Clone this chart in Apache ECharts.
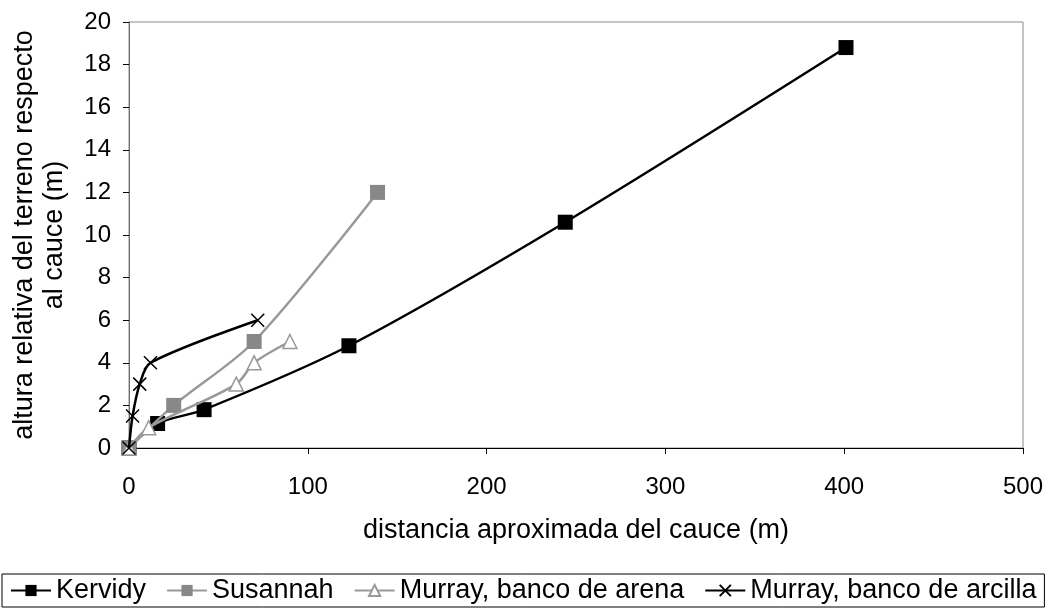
<!DOCTYPE html>
<html>
<head>
<meta charset="utf-8">
<style>
  html, body { margin: 0; padding: 0; background: #fff; }
  #chart { width: 1049px; height: 609px; }
</style>
<script src="https://cdn.jsdelivr.net/npm/echarts@6/dist/echarts.min.js"></script>
</head>
<body>
<div id="chart"></div>
<script>
// datos: [distancia (m), altura (m)]
const kervidy = [[0, 0], [16, 1.15], [42, 1.8], [123, 4.8], [244, 10.6], [401, 18.8]];
const susannah = [[0, 0], [25, 2], [70, 5], [139, 12]];
const murrayArena = [[0, 0], [11, 0.95], [60, 3], [70, 4], [90, 5]];
const murrayArcilla = [[0, 0], [2, 1.5], [6, 3], [12, 4], [72, 6]];

const seriesNames = ['Kervidy', 'Susannah', 'Murray, banco de arena', 'Murray, banco de arcilla'];
const xTitle = 'distancia aproximada del cauce (m)';
const yTitle = 'altura relativa del terreno respecto\nal cauce (m)';

const FONT = 'Liberation Sans, Arial, sans-serif';
const xMark = 'path://M0,0L10,10M10,0L0,10';

const chart = echarts.init(document.getElementById('chart'));

chart.setOption({
  animation: false,
  textStyle: { fontFamily: FONT },
  grid: {
    left: 129, right: 26, top: 22, bottom: 161,
    outerBoundsMode: 'none',
    containLabel: false,
    show: true, borderColor: '#8a8a8a', borderWidth: 1
  },
  xAxis: {
    type: 'value',
    min: 0, max: 500, interval: 100,
    name: xTitle,
    nameLocation: 'middle',
    nameGap: 69,
    nameTextStyle: { fontSize: 27, color: '#000', fontFamily: FONT },
    axisLine: { lineStyle: { color: '#000', width: 1 } },
    axisTick: { show: true, inside: false, length: 6, lineStyle: { color: '#000' } },
    axisLabel: { fontSize: 24, color: '#000', margin: 27, fontFamily: FONT },
    splitLine: { show: false }
  },
  yAxis: {
    type: 'value',
    min: 0, max: 20, interval: 2,
    name: yTitle,
    nameLocation: 'middle',
    nameGap: 59,
    nameRotate: 90,
    nameTextStyle: { fontSize: 27, color: '#000', fontFamily: FONT, lineHeight: 30 },
    axisLine: { show: true, lineStyle: { color: '#6e6e6e', width: 1 } },
    axisTick: { show: true, inside: false, length: 6, lineStyle: { color: '#000' } },
    axisLabel: { fontSize: 24, color: '#000', margin: 18, fontFamily: FONT },
    splitLine: { show: false }
  },
  legend: {
    left: 2, bottom: 2,
    padding: [3, 8],
    itemGap: 20,
    itemWidth: 40,
    itemHeight: 14,
    borderColor: '#000',
    borderWidth: 1,
    textStyle: { fontSize: 27, color: '#000', fontFamily: FONT },
    data: seriesNames
  },
  series: [
    {
      name: seriesNames[0], type: 'line', data: kervidy, smooth: 0.3,
      symbol: 'rect', symbolSize: 15,
      lineStyle: { color: '#000', width: 2.5 },
      itemStyle: { color: '#000' }, z: 2
    },
    {
      name: seriesNames[1], type: 'line', data: susannah, smooth: 0.3,
      symbol: 'rect', symbolSize: 15,
      lineStyle: { color: '#999999', width: 2.5 },
      itemStyle: { color: '#888888' }, z: 3
    },
    {
      name: seriesNames[2], type: 'line', data: murrayArena, smooth: 0.3,
      symbol: 'triangle', symbolSize: 14,
      lineStyle: { color: '#999999', width: 2.5 },
      itemStyle: { color: '#fff', borderColor: '#999999', borderWidth: 1.5 }, z: 4
    },
    {
      name: seriesNames[3], type: 'line', data: murrayArcilla, smooth: 0.3,
      symbol: xMark, symbolSize: 13,
      lineStyle: { color: '#000', width: 2.5 },
      itemStyle: { color: 'none', borderColor: '#000', borderWidth: 1.5 }, z: 5
    }
  ]
});
</script>
</body>
</html>
